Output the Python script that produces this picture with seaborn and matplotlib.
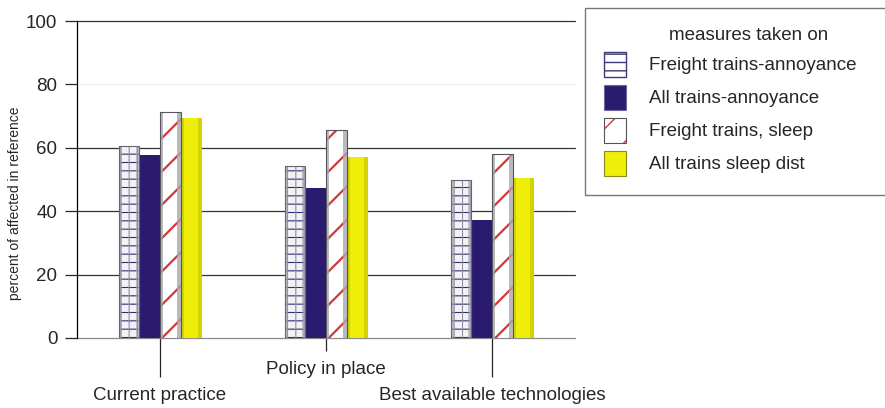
import matplotlib
matplotlib.use("Agg")
import matplotlib.pyplot as plt
from matplotlib.patches import Patch, Rectangle
from matplotlib.legend_handler import HandlerTuple
import pandas as pd
import seaborn as sns

scenarios = ["Current practice", "Policy in place", "Best available technologies"]
series = ["Freight trains-annoyance", "All trains-annoyance",
          "Freight trains, sleep", "All trains sleep dist"]
freight_annoyance = [60.6, 54.4, 49.7]
all_annoyance = [57.7, 47.4, 37.1]
freight_sleep = [71.3, 65.5, 57.9]
all_sleep = [69.3, 57.1, 50.6]
y_ticks = [0, 20, 40, 60, 80, 100]

NAVY = "#2b1b70"
RED = "#d0393a"
YELLOW = "#eeee08"

rows = []
for name, vals in zip(series, [freight_annoyance, all_annoyance, freight_sleep, all_sleep]):
    for sc, v in zip(scenarios, vals):
        rows.append({"scenario": sc, "series": name, "value": v})
df = pd.DataFrame(rows)

sns.set_theme(style="white")
plt.rcParams["font.family"] = ["Liberation Sans", "DejaVu Sans"]

fig = plt.figure(figsize=(8.85, 4.08), dpi=100)
ax = fig.add_axes([77 / 885, 70 / 408, 498 / 885, 317 / 408])

sns.barplot(data=df, x="scenario", y="value", hue="series", order=scenarios,
            hue_order=series, palette=["#f2f2f6", NAVY, "white", YELLOW],
            width=0.5, gap=0, saturation=1, errorbar=None, legend=False, ax=ax)


def hatch_lw(p, lw):
    if hasattr(p, "set_hatch_linewidth"):
        p.set_hatch_linewidth(lw)


def side_strips(p, color, alpha, frac=0.16):
    x, y, w, h = p.get_x(), p.get_y(), p.get_width(), p.get_height()
    for x0 in (x, x + w * (1 - frac)):
        ax.add_patch(Rectangle((x0, y), w * frac, h, facecolor=color,
                               alpha=alpha, lw=0, zorder=2.2))


def outline(p, color, lw=0.8):
    ax.add_patch(Rectangle((p.get_x(), p.get_y()), p.get_width(), p.get_height(),
                           fill=False, edgecolor=color, lw=lw, zorder=2.4))


for i, cont in enumerate(ax.containers):
    for p in cont:
        if i == 0:
            p.set_hatch("--")
            p.set_edgecolor("#2e2e72")
            p.set_linewidth(0)
            hatch_lw(p, 0.8)
            vert = Rectangle((p.get_x(), p.get_y()), p.get_width(), p.get_height(),
                             fill=False, hatch="||", edgecolor="#8e8e9c", lw=0, zorder=2.1)
            hatch_lw(vert, 0.8)
            ax.add_patch(vert)
            side_strips(p, "#9c9ca6", 0.6)
            outline(p, "#666670")
        elif i == 1:
            p.set_linewidth(0)
        elif i == 2:
            p.set_hatch("/")
            p.set_edgecolor(RED)
            p.set_linewidth(0)
            hatch_lw(p, 1.6)
            side_strips(p, "#a8a8b0", 0.8)
            outline(p, "#55555c")
        else:
            p.set_linewidth(0)
            side_strips(p, "#b4b400", 0.45)

ax.set_xlim(-0.5, 2.5)
ax.set_ylim(0, 100)
ax.set_yticks(y_ticks)
ax.set_axisbelow(True)
ax.yaxis.grid(True, lw=0.9)
ax.tick_params(axis="y", length=8.6, width=0.9, labelsize=13.5, pad=5.5, left=True)
tick_colors = ["#8a8a8a", "#333333", "#333333", "#333333", "#f0f0f0", "#333333"]
for t, c in zip(ax.yaxis.get_major_ticks(), tick_colors):
    t.gridline.set_color(c)
    t.gridline.set_clip_on(False)
    t.tick1line.set_color(c)

for side in ["top", "right", "bottom"]:
    ax.spines[side].set_visible(False)
ax.spines["left"].set_color("black")
ax.spines["left"].set_linewidth(0.9)

ax.set_xlabel("")
ax.set_ylabel("percent of affected in reference", fontsize=10)
ax.yaxis.set_label_coords(-0.11, 0.426)

ax.tick_params(axis="x", length=0, width=0.9, labelsize=13.5, bottom=True)
x_tick_len = [28, 9.4, 28]
x_label_pad = [35, 16.2, 35]
x_tick_col = ["#222222", "#222222", "#e2e2e2"]
for t, L, pad, c in zip(ax.xaxis.get_major_ticks(), x_tick_len, x_label_pad, x_tick_col):
    t.set_pad(pad)
    t.tick1line.set_markersize(L)
    t.tick1line.set_color(c)

handles = [
    Patch(facecolor="white", edgecolor="#3a3a78", hatch="--", lw=1),
    Patch(facecolor=NAVY, edgecolor="#6c6c9a", lw=0.8),
    (Patch(facecolor="white", edgecolor=RED, hatch="/", lw=0),
     Patch(facecolor="none", edgecolor="#555555", lw=0.8)),
    Patch(facecolor=YELLOW, edgecolor="#8a8a20", lw=0.8),
]
leg = fig.legend(handles, series, title="measures taken on", loc="upper left",
                 bbox_to_anchor=(585 / 885, 0, 0.37, 1 - 8 / 408), mode="expand",
                 borderaxespad=0, fontsize=13.5, title_fontsize=13.5,
                 frameon=True, fancybox=False, edgecolor="#777777", framealpha=1,
                 handlelength=1.17, handleheight=1.67, labelspacing=0.43,
                 handletextpad=1.23, borderpad=1.0,
                 handler_map={tuple: HandlerTuple(ndivide=1, pad=0)})
leg.get_frame().set_linewidth(1)

fig.savefig("out.png", dpi=100)
